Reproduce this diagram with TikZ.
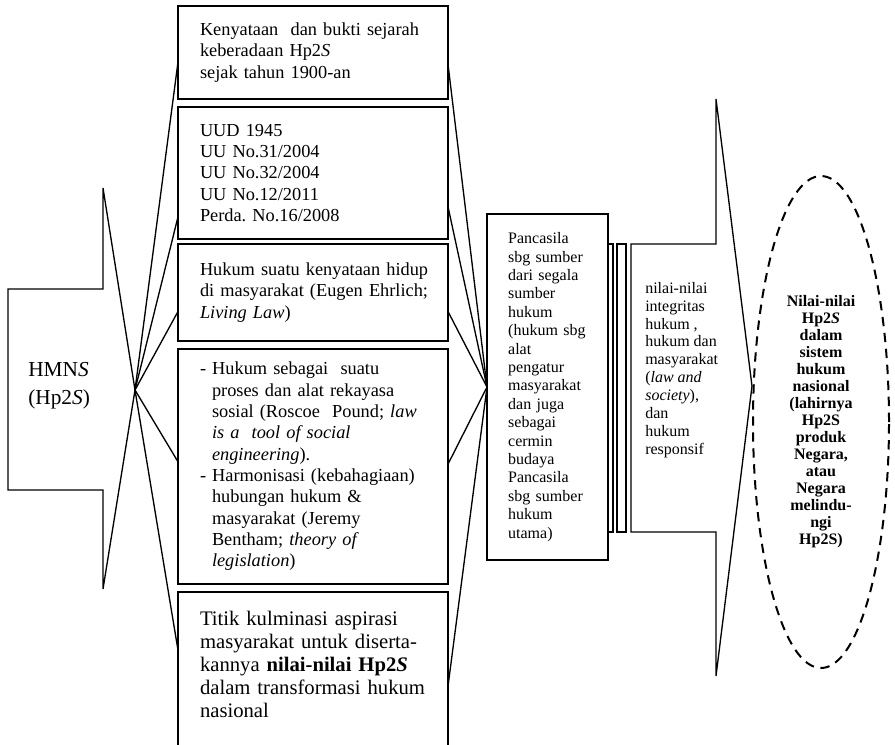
\documentclass[tikz,border=0pt]{standalone}
\usepackage{fontspec}
\setmainfont{Liberation Serif}
\usetikzlibrary{positioning, shapes.geometric}
\tikzset{
    block/.style={rectangle, draw, line width=1pt, fill=white, align=left, text width=175.5pt, minimum width=202.5pt, inner xsep=13.5pt, inner ysep=4pt, outer sep=0pt, execute at begin node={\leftskip=3pt}, font=\fontsize{13.75}{16}\selectfont},
    pillar/.style={rectangle, draw, line width=1pt, fill=white, align=left, text width=59pt, minimum width=90.75pt, minimum height=259.5pt, inner xsep=15.75pt, outer sep=0pt, font=\fontsize{12}{13.8}\selectfont},
    outline/.style={draw, line width=1pt, line join=miter},
    fan/.style={line width=1pt},
    valuetext/.style={align=left, inner sep=0pt, font=\fontsize{12}{13.4}\selectfont},
    goal/.style={ellipse, draw, line width=1.5pt, dash pattern=on 7pt off 5pt, minimum width=102pt, minimum height=369pt, align=center, inner sep=0pt, font=\fontsize{12}{12.75}\selectfont\bfseries}
}

\begin{document}
\begin{tikzpicture}[x=0.75pt, y=-0.75pt, node distance=6pt]
            \useasboundingbox (0,0) rectangle (895,744);

            \coordinate (tip_left) at (135,390);
            \draw[outline] (8,289) -- (103,289) -- (103,188) -- (tip_left) -- (103,589) -- (103,490) -- (8,490) -- cycle;
            \node[anchor=west, align=left, inner sep=0pt, font=\fontsize{16}{21}\selectfont] (hmns) at (28,386) {HMN\textit{S}\\(Hp2\textit{S})};

            \node[block, minimum height=69.75pt, anchor=north west] (sejarah) at (178,6) {Kenyataan\ \ dan bukti sejarah\\keberadaan Hp2\textit{S}\\sejak tahun 1900-an};
            \node[block, minimum height=99pt] (undang) [below=of sejarah] {UUD 1945\\UU No.31/2004\\UU No.32/2004\\UU No.12/2011\\Perda.\ No.16/2008};
            \node[block, minimum height=72.75pt] (ehrlich) [below=3.75pt of undang] {Hukum suatu kenyataan hidup\\di masyarakat (Eugen Ehrlich;\\\textit{Living Law})};
            \node[block, minimum height=176.25pt] (pound) [below=of ehrlich] {- Hukum sebagai\ \ suatu\\\hspace*{9pt}proses dan alat rekayasa\\\hspace*{9pt}sosial (Roscoe\ \ Pound; \textit{law}\\\hspace*{9pt}\textit{is a\ \ tool of social}\\\hspace*{9pt}\textit{engineering}).\\- Harmonisasi (kebahagiaan)\\\hspace*{9pt}hubungan hukum \&\\\hspace*{9pt}masyarakat (Jeremy\\\hspace*{9pt}Bentham; \textit{theory of}\\\hspace*{9pt}\textit{legislation})};
            \node[block, inner ysep=14pt, font=\fontsize{15.5}{17.25}\selectfont] (kulminasi) [below=of pound] {Titik kulminasi aspirasi\\masyarakat untuk diserta-\\kannya \textbf{nilai-nilai Hp2\textit{S}}\\dalam transformasi hukum\\nasional\rule[-30pt]{0pt}{30pt}};

            \node[pillar, anchor=west] (pancasila) at (487,387) {Pancasila\\sbg sumber\\dari segala\\sumber\\hukum\\(hukum sbg\\alat\\pengatur\\masyarakat\\dan juga\\sebagai\\cermin\\budaya\\Pancasila\\sbg sumber\\hukum\\utama)};
            \draw[outline] (608,244) rectangle (613,532);
            \draw[outline] (617,244) rectangle (626,532);

            \coordinate (tip_right) at (752,386);
            \draw[outline] (631,244) -- (716,244) -- (716,99) -- (tip_right) -- (716,676) -- (716,532) -- (631,532) -- cycle;
            \node[valuetext, anchor=north west] (integritas) at (645,282) {nilai-nilai\\integritas\\hukum ,\\hukum dan\\masyarakat\\(\textit{law and}\\\textit{society}),\\dan\\hukum\\responsif};

            \node[goal] (nilai) at (821,422) {Nilai-nilai\\Hp2\textit{S}\\dalam\\sistem\\hukum\\nasional\\(lahirnya\\Hp2S\\produk\\Negara,\\atau\\Negara\\melindu-\\ngi\\Hp2S)};

            \draw[fan] (tip_left) -- (sejarah.184.4);
            \draw[fan] (tip_left) -- (undang.198);
            \draw[fan] (tip_left) -- (ehrlich.188.6);
            \draw[fan] (tip_left) -- (pound.178.1);
            \draw[fan] (tip_left) -- (kulminasi.166);
            \draw[fan] (sejarah.355.6) -- (pancasila.west);
            \draw[fan] (undang.346.3) -- (pancasila.west);
            \draw[fan] (ehrlich.352.6) -- (pancasila.west);
            \draw[fan] (pound.1.5) -- (pancasila.west);
            \draw[fan] (kulminasi.359) -- (pancasila.west);
\end{tikzpicture}
\end{document}
